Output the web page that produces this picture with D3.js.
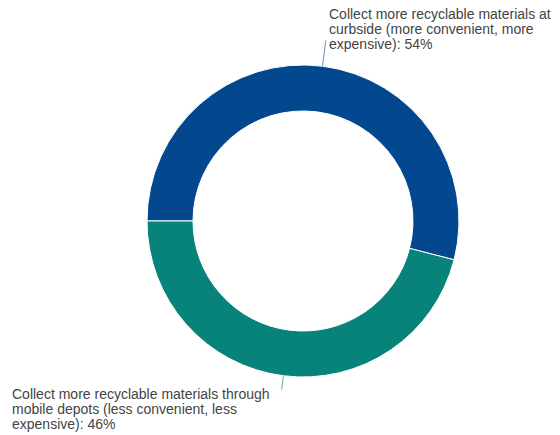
<!DOCTYPE html>
<html>
<head>
<meta charset="utf-8">
<script src="https://cdn.jsdelivr.net/npm/d3@7"></script>
<style>
html,body{margin:0;padding:0;background:#fff;}
svg{display:block;}
</style>
</head>
<body>
<svg id="chart" width="560" height="435"></svg>
<script>
const categories = [
  "Collect more recyclable materials at curbside (more convenient, more expensive)",
  "Collect more recyclable materials through mobile depots (less convenient, less expensive)"
];
const values = [54, 46];
const labelLines = [
  ["Collect more recyclable materials at", "curbside (more convenient, more", "expensive): 54%"],
  ["Collect more recyclable materials through", "mobile depots (less convenient, less", "expensive): 46%"]
];
const colors = ["#03478f", "#07837a"];
const leaderColors = ["#6a8fbf", "#5fb0aa"];

const svg = d3.select("#chart");
const cx = 303, cy = 221, rOuter = 156, rInner = 110;
const g = svg.append("g").attr("transform", `translate(${cx},${cy})`);

const data = categories.map((c, i) => ({name: c, value: values[i], i}));
const pie = d3.pie().sort(null).value(d => d.value)
  .startAngle(-Math.PI / 2).endAngle(3 * Math.PI / 2);
const arcs = pie(data);
const arc = d3.arc().innerRadius(rInner).outerRadius(rOuter);

g.selectAll("path.slice").data(arcs).enter().append("path")
  .attr("class", "slice")
  .attr("d", arc)
  .attr("fill", d => colors[d.data.i])
  .attr("stroke", "#ffffff")
  .attr("stroke-width", 1);

// leader lines (radial)
const leaderLen = [26, 14];
arcs.forEach((a, k) => {
  const mid = (a.startAngle + a.endAngle) / 2;
  const r1 = rOuter, r2 = rOuter + leaderLen[k];
  g.append("line")
    .attr("x1", r1 * Math.sin(mid)).attr("y1", -r1 * Math.cos(mid))
    .attr("x2", r2 * Math.sin(mid)).attr("y2", -r2 * Math.cos(mid))
    .attr("stroke", leaderColors[k]).attr("stroke-width", 1);
});

const labelPos = [
  {x: 329, y: 19},
  {x: 12, y: 398.5}
];
labelLines.forEach((lines, k) => {
  const t = svg.append("text")
    .attr("font-family", "Arial, 'Liberation Sans', sans-serif")
    .attr("font-size", 14)
    .attr("fill", "#444444");
  lines.forEach((ln, j) => {
    t.append("tspan").attr("x", labelPos[k].x).attr("y", labelPos[k].y + j * 15.2).text(ln);
  });
});
</script>
</body>
</html>
